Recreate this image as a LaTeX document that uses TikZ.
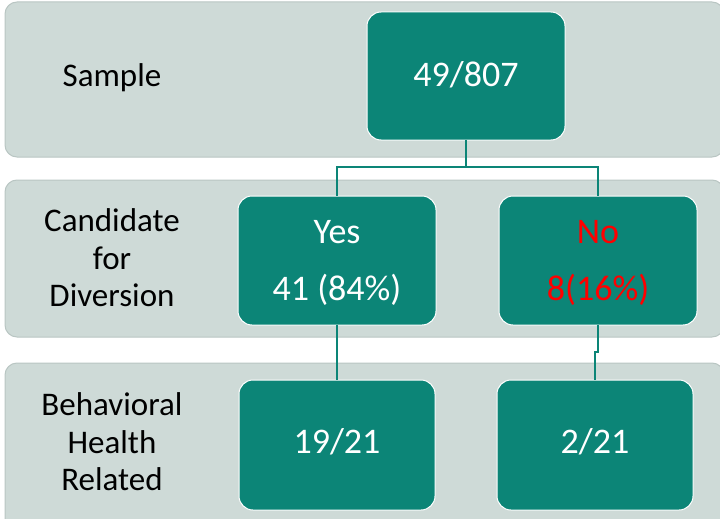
\documentclass[tikz,border=0pt]{standalone}
\usepackage{fontspec}
\setmainfont{Carlito}
\definecolor{bandfill}{HTML}{CEDAD7}
\definecolor{bandline}{HTML}{B9C6C3}
\definecolor{teal}{HTML}{0C8577}
\definecolor{noRed}{HTML}{FF0000}
\begin{document}
\begin{tikzpicture}[x=1pt,y=-1pt,
  band/.style={fill=bandfill,draw=bandline,line width=1pt,rounded corners=12pt},
  box/.style={fill=teal,draw=white,line width=1pt,rounded corners=14pt},
  boxtext/.style={text=white,font=\fontsize{36}{40}\selectfont,inner sep=0pt},
  label/.style={align=center,font=\fontsize{33}{37.5}\selectfont,inner sep=0pt,text=black},
  conn/.style={draw=teal,line width=1.2pt}]
\useasboundingbox (0,0) rectangle (720,519);
% bands
\draw[band] (5,2) rectangle (724,157);
\draw[band] (5,180) rectangle (724,337);
\draw[band] (5,363) rectangle (724,530);
% labels
\node[label] (lsample) at (112,78) {Sample};
\node[label] (lcand) at (112,258) {Candidate\\for\\Diversion};
\node[label] (lbeh) at (112,442) {Behavioral\\Health\\Related};
% boxes
\draw[box] (367,12) rectangle (565,140);
\coordinate (topS) at (466,140);
\node[boxtext] (top) at (466,75) {49/807};
\draw[box] (238,196) rectangle (436,325);
\node[boxtext] (yesA) at (337,232) {Yes};
\node[boxtext] (yesB) at (337,290) {41 (84\%)};
\draw[box] (499,196) rectangle (697,325);
\node[boxtext,text=noRed] (noA) at (598,232) {No};
\node[boxtext,text=noRed] (noB) at (598,290) {8(16\%)};
\draw[box] (239,380) rectangle (435,510);
\node[boxtext] (b1) at (337,442) {19/21};
\draw[box] (497,380) rectangle (693,510);
\node[boxtext] (b2) at (595,442) {2/21};
% connector anchor points
\coordinate (yesN) at (337,196);
\coordinate (noN) at (598,196);
\coordinate (yesS) at (337,325);
\coordinate (noS) at (598,325);
\coordinate (b1N) at (337,380);
\coordinate (b2N) at (595,380);
% connectors
\draw[conn] (topS) -- (466,167) -| (yesN);
\draw[conn] (466,167) -| (noN);
\draw[conn] (yesS) -- (b1N);
\draw[conn] (noS) -- (598,352) -| (b2N);
\end{tikzpicture}
\end{document}
